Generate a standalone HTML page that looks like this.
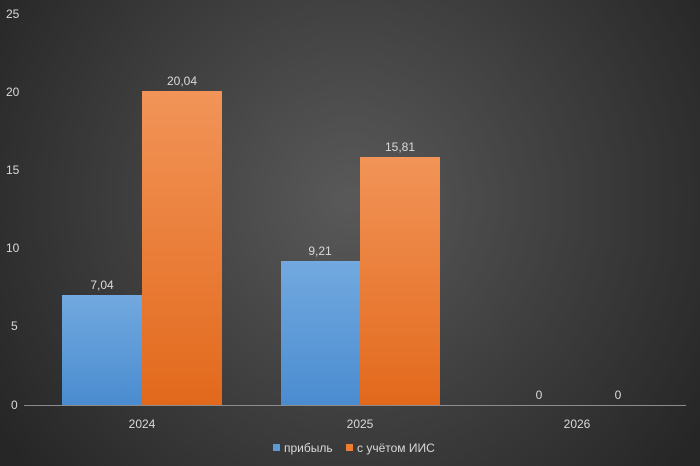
<!DOCTYPE html>
<html><head><meta charset="utf-8"><style>
html,body{margin:0;padding:0;width:700px;height:466px;overflow:hidden;}
text{font-family:"Liberation Sans","DejaVu Sans",sans-serif;font-size:12px;fill:#d9d9d9;}
</style></head><body>
<svg width="700" height="466" xmlns="http://www.w3.org/2000/svg">
<defs>
<radialGradient id="bg" cx="350" cy="200" r="420" gradientUnits="userSpaceOnUse">
<stop offset="0" stop-color="#595959"/><stop offset="1" stop-color="#262626"/>
</radialGradient>
<linearGradient id="or" x1="0" y1="0" x2="0" y2="1"><stop offset="0" stop-color="#f29458"/><stop offset="1" stop-color="#e2691c"/></linearGradient>
<linearGradient id="bl" x1="0" y1="0" x2="0" y2="1"><stop offset="0" stop-color="#72a9df"/><stop offset="1" stop-color="#4a8cd0"/></linearGradient>
</defs>
<rect width="700" height="466" fill="url(#bg)"/>
<text x="6" y="18">25</text>
<text x="6" y="96">20</text>
<text x="6" y="174">15</text>
<text x="6" y="252">10</text>
<text x="11" y="330">5</text>
<text x="11" y="409">0</text>
<rect x="62" y="295" width="80" height="110" fill="url(#bl)"/>
<rect x="142" y="91" width="80" height="314" fill="url(#or)"/>
<rect x="281" y="261" width="79" height="144" fill="url(#bl)"/>
<rect x="360" y="157" width="80" height="248" fill="url(#or)"/>
<line x1="24" y1="405.5" x2="686" y2="405.5" stroke="#8c8c8c" stroke-width="1"/>
<g text-anchor="middle">
<text x="102" y="289">7,04</text>
<text x="182" y="85">20,04</text>
<text x="320" y="255">9,21</text>
<text x="400" y="151">15,81</text>
<text x="539" y="399">0</text>
<text x="618" y="399">0</text>
<text x="142" y="428">2024</text>
<text x="360" y="428">2025</text>
<text x="577" y="428">2026</text>
</g>
<rect x="273" y="444" width="7" height="7" fill="#5b9bd5"/>
<text x="284" y="452">прибыль</text>
<rect x="346" y="444" width="7" height="7" fill="#ed7d31"/>
<text x="357" y="452">с учётом ИИС</text>
</svg>
</body></html>
